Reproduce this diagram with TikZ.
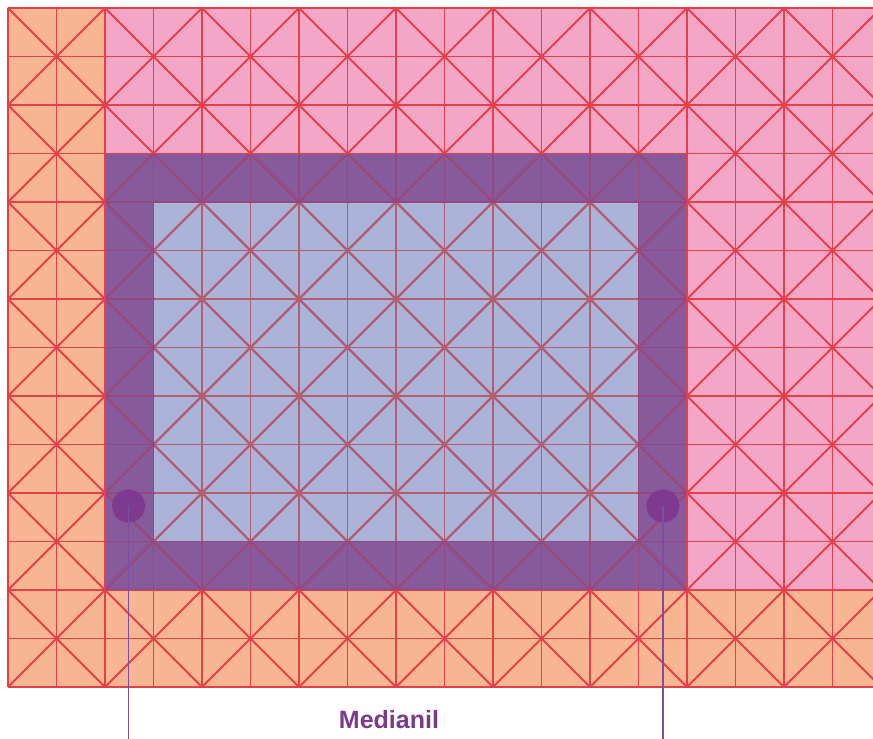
\documentclass[tikz,border=0pt]{standalone}
\usepackage{fontspec}
\setmainfont{Liberation Sans}
\definecolor{bgorange}{HTML}{F7B592}
\definecolor{bgpink}{HTML}{F3A6C6}
\definecolor{bgpurple}{HTML}{875A9C}
\definecolor{bgblue}{HTML}{ABB3D9}
\definecolor{linered}{HTML}{E5404A}
\definecolor{linepurple}{HTML}{94487F}
\definecolor{lineblue}{HTML}{B35E6E}
\definecolor{dotpurple}{HTML}{7E3A8E}
\definecolor{connpurple}{HTML}{7A4F9E}
\definecolor{textpurple}{HTML}{7B3A8A}
\newcommand\mygridlines[1]{%
  \foreach \k in {0,...,18} {\draw[gridline,#1] ({8+\k*48.5},8) -- ({8+\k*48.5},687);}
  \foreach \k in {0,...,14} {\draw[gridline,#1] (8,{8+\k*48.5}) -- (890,{8+\k*48.5});}
  \foreach \i in {0,...,8} {\foreach \j in {0,...,6} {
    \draw[gridline,#1] ({8+\i*97},{8+\j*97}) -- ({105+\i*97},{105+\j*97});
    \draw[gridline,#1] ({105+\i*97},{8+\j*97}) -- ({8+\i*97},{105+\j*97});
  }}
}
\begin{document}
\begin{tikzpicture}[x=1pt,y=-1pt,
  gridline/.style={line width=1.9pt},
  dotnode/.style={circle,fill=dotpurple,inner sep=0pt,minimum size=33pt},
  conn/.style={draw=connpurple,line width=1.8pt},
  lbl/.style={font=\bfseries\fontsize{25}{30}\selectfont,text=textpurple,anchor=base,inner sep=0pt}]
\useasboundingbox (0,0) rectangle (873,739);
\fill[white] (0,0) rectangle (873,739);
% backgrounds
\fill[bgorange] (8,8) rectangle (873,687);
\fill[bgpink] (105,8) rectangle (873,590);
\fill[bgpurple] (105,153.5) rectangle (687,590);
\fill[bgblue] (153.5,202) rectangle (638.5,541.5);
% grid lines
\begin{scope}
  \clip (7,7) rectangle (873,688);
  \mygridlines{linered}
\end{scope}
\begin{scope}
  \clip (106,154.5) rectangle (686,589);
  \mygridlines{linepurple}
\end{scope}
\begin{scope}
  \clip (154.5,203) rectangle (637.5,540.5);
  \mygridlines{lineblue}
\end{scope}
% markers and connectors
\node[dotnode] (dl) at (128.5,506) {};
\node[dotnode] (dr) at (663,506) {};
\coordinate (bl) at (128.5,739);
\coordinate (br) at (663,739);
\draw[conn] (dl.center) -- (bl);
\draw[conn] (dr.center) -- (br);
\node[lbl] (med) at (389,728) {Medianil};
\end{tikzpicture}
\end{document}
